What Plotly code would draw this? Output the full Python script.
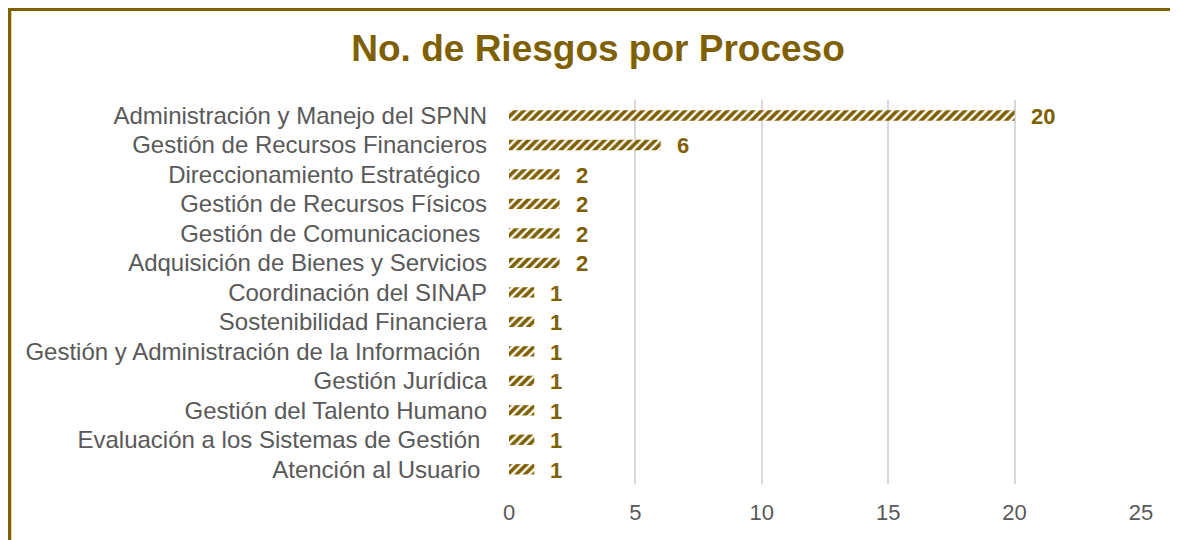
import plotly.graph_objects as go

categories = [
    "Administración y Manejo del SPNN",
    "Gestión de Recursos Financieros",
    "Direccionamiento Estratégico\u00a0",
    "Gestión de Recursos Físicos",
    "Gestión de Comunicaciones\u00a0",
    "Adquisición de Bienes y Servicios",
    "Coordinación del SINAP",
    "Sostenibilidad Financiera",
    "Gestión y Administración de la Información\u00a0",
    "Gestión Jurídica",
    "Gestión del Talento Humano",
    "Evaluación a los Sistemas de Gestión\u00a0",
    "Atención al Usuario\u00a0",
]
values = [20, 6, 2, 2, 2, 2, 1, 1, 1, 1, 1, 1, 1]
x_ticks = [0, 5, 10, 15, 20, 25]
title_text = "No. de Riesgos por Proceso"

GOLD = "#7F6000"
GREY = "#595959"
FONT = "Liberation Sans, Arial, sans-serif"

fig = go.Figure()
fig.add_trace(go.Bar(
    x=values,
    y=categories,
    orientation="h",
    marker=dict(
        color="white",
        line=dict(width=0),
        pattern=dict(shape="/", fgcolor=GOLD, bgcolor="white", size=6, solidity=0.6, fgopacity=1),
    ),
    hoverinfo="x+y",
))

annotations = []
for c, v in zip(categories, values):
    annotations.append(dict(
        x=v, y=c, xref="x", yref="y", text=f"<b>{v}</b>",
        showarrow=False, xanchor="left", xshift=14, yshift=-1,
        font=dict(family=FONT, size=22, color=GOLD),
    ))

fig.update_layout(
    width=1170, height=532,
    paper_bgcolor="white", plot_bgcolor="white",
    margin=dict(l=501, r=37, t=92, b=56, autoexpand=False),
    bargap=0.65,
    showlegend=False,
    font=dict(family=FONT, color=GREY, size=22),
    title=dict(text=f"<b>{title_text}</b>", x=0.5043, xanchor="center", y=0.925, yanchor="middle",
               font=dict(family=FONT, size=37, color=GOLD)),
    xaxis=dict(range=[0, 25], tickvals=x_ticks, showgrid=True, gridcolor="#D9D9D9", gridwidth=1.5,
               zeroline=False, showline=False, ticks="", tickfont=dict(size=22, color=GREY),
               ticklabelstandoff=13),
    yaxis=dict(categoryorder="array", categoryarray=categories, autorange="reversed",
               showgrid=False, zeroline=False, showline=False, ticks="",
               tickfont=dict(size=24, color=GREY), ticklabelstandoff=21),
    annotations=annotations,
    shapes=[
        dict(type="line", xref="paper", yref="paper", x0=-0.7927, x1=1.2, y0=1.2357, y1=1.2357,
             line=dict(color=GOLD, width=3)),
        dict(type="line", xref="paper", yref="paper", x0=-0.7903, x1=-0.7903, y0=1.2396, y1=-0.3,
             line=dict(color=GOLD, width=3.5)),
    ],
)

fig.write_html("out.html")
